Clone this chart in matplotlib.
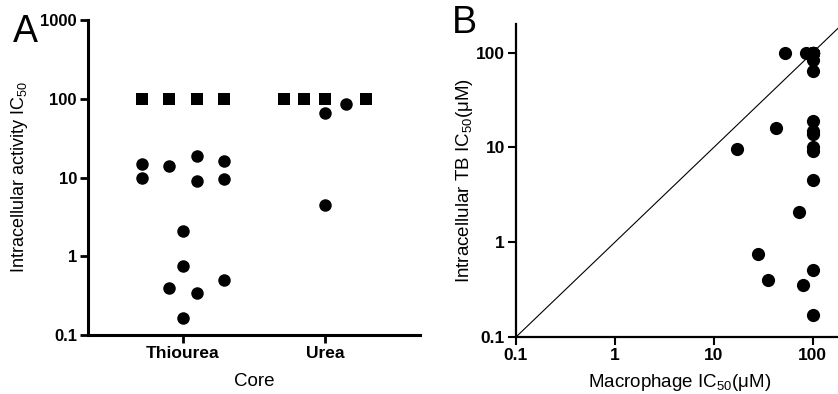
import matplotlib
matplotlib.use("Agg")
import matplotlib.pyplot as plt
import numpy as np

plt.rcParams['font.family'] = ['Liberation Sans', 'DejaVu Sans']
plt.rcParams['mathtext.fontset'] = 'custom'
plt.rcParams['mathtext.rm'] = 'Liberation Sans'
plt.rcParams['mathtext.default'] = 'regular'

# --- panel A data (dot plot by core) ---
cores = ["Thiourea", "Urea"]
# squares = compounds inactive (>100, plotted at 100)
thio_sq_lane = [-3, -1, 1, 3]
thio_sq_val = [100, 100, 100, 100]
thio_ci_lane = [-3, -3, -1, 1, 1, 3, 3, 0, 0, -1, 1, 3, 0]
thio_ci_val = [15, 10, 14, 19, 9.1, 16, 9.5, 2.1, 0.75, 0.40, 0.345, 0.50, 0.166]
urea_sq_lane = [-3, -1.5, 0, 3]
urea_sq_val = [100, 100, 100, 100]
urea_ci_lane = [0, 1.5, 0]
urea_ci_val = [65, 85, 4.5]

ticks_a = [0.1, 1, 10, 100, 1000]
ticklabels_a = ["0.1", "1", "10", "100", "1000"]

# --- panel B data (macrophage vs intracellular) ---
macro_sq = [53, 85, 100, 100, 100, 100, 100, 100, 100]
intra_sq = [100, 100, 100, 100, 100, 100, 100, 100, 100]
macro_ci = [100, 100, 42.6, 17, 100, 100, 100, 100, 100, 100, 72, 28, 35.6, 80, 100, 100]
intra_ci = [83, 64, 16, 9.6, 19, 14.9, 13.7, 10, 9.1, 4.5, 2.1, 0.755, 0.40, 0.355, 0.515, 0.17]

ticks_b = [0.1, 1, 10, 100]
ticklabels_b = ["0.1", "1", "10", "100"]

lane_w = 0.097
W, H = 838, 394

fig = plt.figure(figsize=(W / 100, H / 100), dpi=100)

# ---------------- A ----------------
axA = fig.add_axes([88 / W, (H - 335) / H, 332 / W, 315 / H])
for i, (sl, sv, cl, cv) in enumerate([(thio_sq_lane, thio_sq_val, thio_ci_lane, thio_ci_val),
                                      (urea_sq_lane, urea_sq_val, urea_ci_lane, urea_ci_val)]):
    axA.plot(i + np.array(sl) * lane_w, sv, 's', color='black', ms=9, mew=0, clip_on=False)
    axA.plot(i + np.array(cl) * lane_w, cv, 'o', color='black', ms=9, mew=0, clip_on=False)

axA.set_yscale('log')
axA.set_ylim(0.1, 1000)
axA.set_xlim(-0.67, 1.67)
axA.set_yticks(ticks_a)
axA.set_yticklabels(ticklabels_a, fontweight='bold', fontsize=12)
axA.minorticks_off()
axA.set_xticks(range(len(cores)))
axA.set_xticklabels(cores, fontweight='bold', fontsize=12.5)
for s in ['top', 'right']:
    axA.spines[s].set_visible(False)
for s in ['left', 'bottom']:
    axA.spines[s].set_linewidth(2.2)
axA.tick_params(width=2.0, length=6, pad=2)
axA.set_ylabel("Intracellular activity IC$_{50}$", fontsize=13)
axA.yaxis.set_label_coords(-0.174, 0.5)
axA.set_xlabel("Core", fontsize=13.5)
axA.xaxis.set_label_coords(0.5, -0.122)
axA.xaxis.label.set_va('top')

# ---------------- B ----------------
axB = fig.add_axes([516 / W, (H - 337) / H, 326.5 / W, 313 / H])
axB.set_xscale('log')
axB.set_yscale('log')
axB.set_xlim(0.1, 200)
axB.set_ylim(0.1, 200)
axB.axline((0.1, 0.1), (100, 100), color='black', lw=0.8)
axB.plot(macro_sq, intra_sq, 'o', color='black', ms=9.5, mew=0, clip_on=False)
axB.plot(macro_ci, intra_ci, 'o', color='black', ms=9.5, mew=0, clip_on=False)
axB.set_xticks(ticks_b)
axB.set_xticklabels(ticklabels_b, fontweight='bold', fontsize=12.5)
axB.set_yticks(ticks_b)
axB.set_yticklabels(ticklabels_b, fontweight='bold', fontsize=12.5)
axB.minorticks_off()
for s in ['top', 'right']:
    axB.spines[s].set_visible(False)
for s in ['left', 'bottom']:
    axB.spines[s].set_linewidth(1.6)
axB.tick_params(width=1.5, length=6, pad=2)
axB.set_ylabel("Intracellular TB IC$_{50}$(\u03bcM)", fontsize=13.5)
axB.yaxis.set_label_coords(-0.126, 0.5)
axB.set_xlabel("Macrophage IC$_{50}$(\u03bcM)", fontsize=13.5)
axB.xaxis.set_label_coords(0.5, -0.112)
axB.xaxis.label.set_va('top')

fig.text(13 / W, 1 - 42 / H, "A", fontsize=27, ha='left', va='baseline')
fig.text(452 / W, 1 - 33 / H, "B", fontsize=27, ha='left', va='baseline')

fig.savefig("out.png", dpi=100)
